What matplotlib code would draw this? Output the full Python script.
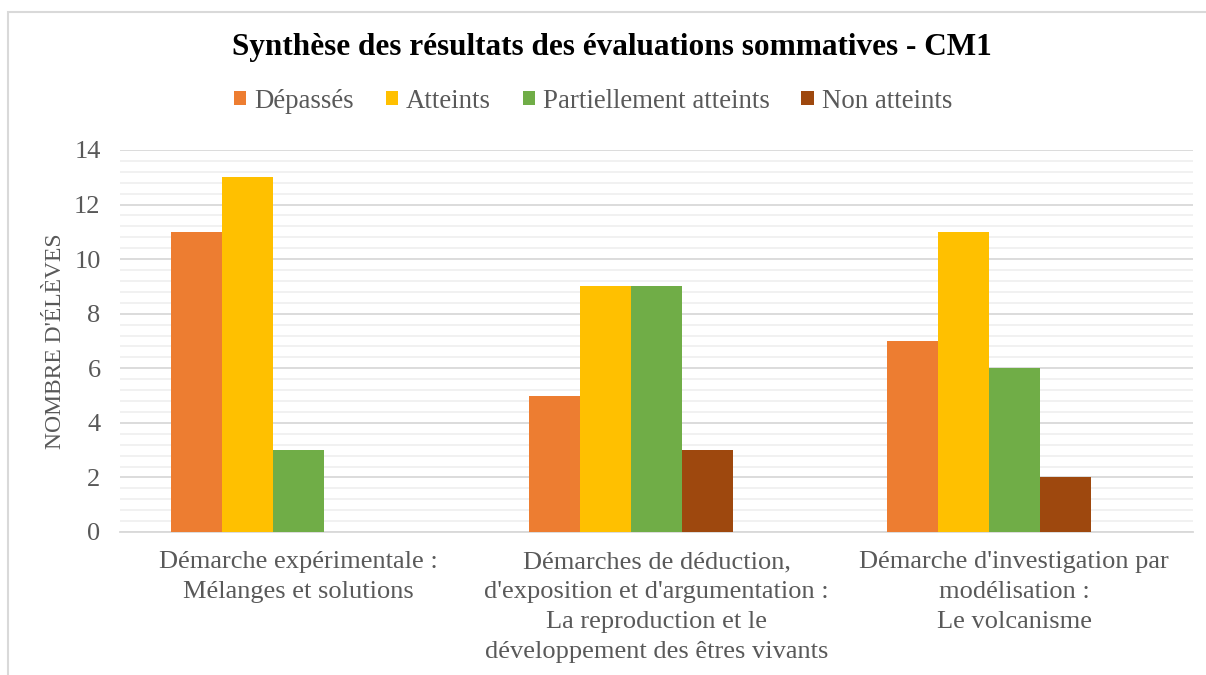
import numpy as np
import matplotlib.pyplot as plt
from matplotlib.patches import Rectangle
from matplotlib.ticker import MultipleLocator

plt.rcParams['font.family'] = ['Liberation Serif', 'DejaVu Serif']

# données
categories = [
    "Démarche expérimentale :\nMélanges et solutions",
    "Démarches de déduction,\nd'exposition et d'argumentation :\nLa reproduction et le\ndéveloppement des êtres vivants",
    "Démarche d'investigation par\nmodélisation :\nLe volcanisme",
]
series_names = ["Dépassés", "Atteints", "Partiellement atteints", "Non atteints"]
depasses = [11, 5, 7]
atteints = [13, 9, 11]
partiellement = [3, 9, 6]
non_atteints = [0, 3, 2]
colors = ["#ED7D31", "#FFC000", "#70AD47", "#9E480E"]

fig = plt.figure(figsize=(12.06, 6.75), dpi=100)
ax = fig.add_axes([120/1206, 1-532/675, (1193-120)/1206, (532-150)/675])

x = np.arange(len(categories))
w = 0.1426
valeurs = [depasses, atteints, partiellement, non_atteints]
for i, (nom, vals) in enumerate(zip(series_names, valeurs)):
    ax.bar(x + (i - 2) * w, vals, width=w, color=colors[i], label=nom, zorder=3)

ax.set_xlim(-0.5, 2.5)
ax.set_ylim(0, 14)
ax.yaxis.set_major_locator(MultipleLocator(2))
ax.yaxis.set_minor_locator(MultipleLocator(0.4))
ax.grid(axis='y', which='major', color='#d9d9d9', linewidth=1.3, zorder=0)
ax.grid(axis='y', which='minor', color='#f0f0f0', linewidth=1.3, zorder=0)
for s in ['top', 'right', 'left']:
    ax.spines[s].set_visible(False)
ax.spines['bottom'].set_color('#d9d9d9')
ax.spines['bottom'].set_linewidth(1.3)
ax.tick_params(axis='both', which='both', length=0, colors='#595959', labelsize=19)
ax.tick_params(axis='y', pad=14)
ax.tick_params(axis='x', pad=14)
ax.set_xticks(x)
ax.set_xticklabels(categories, linespacing=1.46)
ax.set_ylabel("NOMBRE D'ÉLÈVES", fontsize=17, color='#595959', labelpad=6)

fig.text(612/1206, 1-47/675, "Synthèse des résultats des évaluations sommatives - CM1",
         ha='center', va='center', fontsize=22.5, fontweight='bold', color='black')

fig.legend(loc='center', bbox_to_anchor=(593/1206, 1-101/675), ncol=4, frameon=False,
           fontsize=19.4, labelcolor='#595959', handlelength=0.45, handleheight=0.45,
           handletextpad=0.3, columnspacing=1.18)

# cadre du graphique (coupé à droite et en bas)
fig.patches.append(Rectangle((8/1206, -0.05), 1.2, (675-12)/675 + 0.05,
                             transform=fig.transFigure, fill=False,
                             edgecolor='#d9d9d9', linewidth=1.5))

fig.savefig('out.png', dpi=100)
